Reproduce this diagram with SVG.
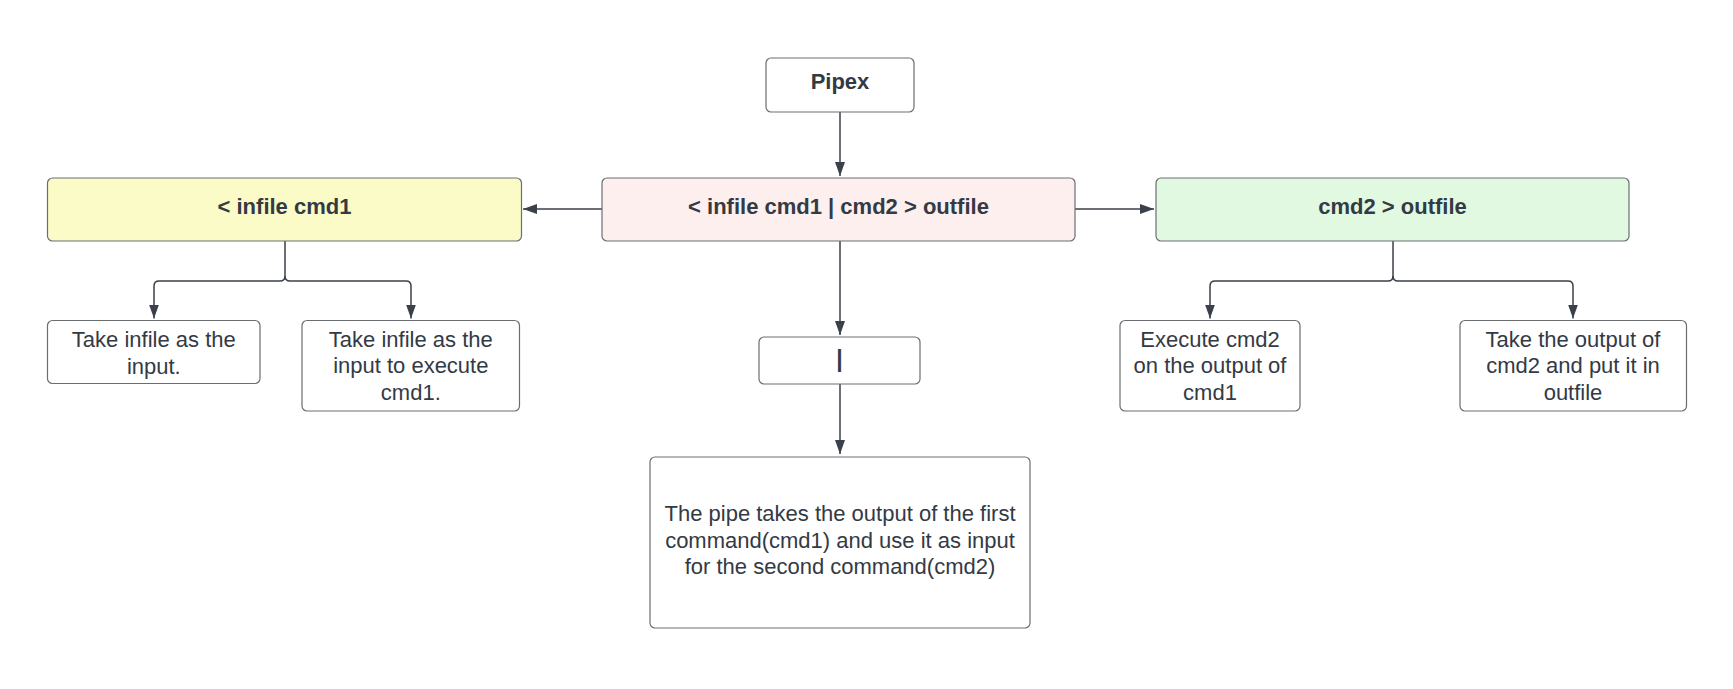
<svg xmlns="http://www.w3.org/2000/svg" width="1733" height="689" viewBox="0 0 1733 689">
<style>
.box{stroke:#6a6e73;stroke-width:1.2;}
.w{fill:#ffffff;}
.t{font-family:"Liberation Sans",Arial,sans-serif;font-size:22px;fill:#333a44;text-anchor:middle;}
.b{font-weight:bold;}
.c{fill:none;stroke:#3a414a;stroke-width:1.5;}
</style>
<defs>
<marker id="ah" markerUnits="userSpaceOnUse" markerWidth="16" markerHeight="12" refX="14" refY="5" orient="auto">
<path d="M0,0 L14,5 L0,10 z" fill="#3a414a"/>
</marker>
</defs>
<rect width="1733" height="689" fill="#ffffff"/>
<g id="connectors">
<path class="c" d="M840 112 V176" marker-end="url(#ah)"/>
<path class="c" d="M602 209 H523" marker-end="url(#ah)"/>
<path class="c" d="M1075 209 H1154" marker-end="url(#ah)"/>
<path class="c" d="M840 241 V335" marker-end="url(#ah)"/>
<path class="c" d="M840 384 V454" marker-end="url(#ah)"/>
<path class="c" d="M285 241 V276 Q285 281 280 281 H159 Q154 281 154 286 V318.5" marker-end="url(#ah)"/>
<path class="c" d="M285 276 Q285 281 290 281 H406 Q411 281 411 286 V318.5" marker-end="url(#ah)"/>
<path class="c" d="M1393 241 V276 Q1393 281 1388 281 H1215 Q1210 281 1210 286 V318.5" marker-end="url(#ah)"/>
<path class="c" d="M1393 276 Q1393 281 1398 281 H1568 Q1573 281 1573 286 V318.5" marker-end="url(#ah)"/>
</g>
<g id="pipex">
<rect class="box w" x="766" y="58" width="148" height="54" rx="5"/>
<text class="t b" x="840" y="89">Pipex</text>
</g>
<g id="main">
<rect class="box" x="602" y="178" width="473" height="63" rx="5" fill="#fdefee"/>
<text class="t b" x="838.5" y="214">&lt; infile cmd1 | cmd2 &gt; outfile</text>
</g>
<g id="infile">
<rect class="box" x="47.5" y="178" width="474" height="63" rx="5" fill="#fbfbc8"/>
<text class="t b" x="284.5" y="214">&lt; infile cmd1</text>
</g>
<g id="outfile">
<rect class="box" x="1156" y="178" width="473" height="63" rx="5" fill="#e2f9e1"/>
<text class="t b" x="1392.5" y="214">cmd2 &gt; outfile</text>
</g>
<g id="l1">
<rect class="box w" x="47.5" y="320.5" width="212.5" height="63" rx="5"/>
<text class="t" x="153.8" y="347">Take infile as the</text>
<text class="t" x="153.8" y="373.5">input.</text>
</g>
<g id="l2">
<rect class="box w" x="302" y="320.5" width="217.5" height="90.5" rx="5"/>
<text class="t" x="410.8" y="346.5">Take infile as the</text>
<text class="t" x="410.8" y="373">input to execute</text>
<text class="t" x="410.8" y="399.5">cmd1.</text>
</g>
<g id="pipe">
<rect class="box w" x="759" y="337" width="161" height="47" rx="5"/>
<text class="t b" x="839.5" y="366.5" style="font-size:23px">|</text>
</g>
<g id="desc">
<rect class="box w" x="650" y="457" width="380" height="171" rx="5"/>
<text class="t" x="840" y="521">The pipe takes the output of the first</text>
<text class="t" x="840" y="547.5">command(cmd1) and use it as input</text>
<text class="t" x="840" y="573.5">for the second command(cmd2)</text>
</g>
<g id="r1">
<rect class="box w" x="1120" y="320.5" width="180" height="90.5" rx="5"/>
<text class="t" x="1210" y="346.5">Execute cmd2</text>
<text class="t" x="1210" y="373">on the output of</text>
<text class="t" x="1210" y="399.5">cmd1</text>
</g>
<g id="r2">
<rect class="box w" x="1460" y="320.5" width="226.5" height="90.5" rx="5"/>
<text class="t" x="1573" y="346.5">Take the output of</text>
<text class="t" x="1573" y="373">cmd2 and put it in</text>
<text class="t" x="1573" y="399.5">outfile</text>
</g>
</svg>
